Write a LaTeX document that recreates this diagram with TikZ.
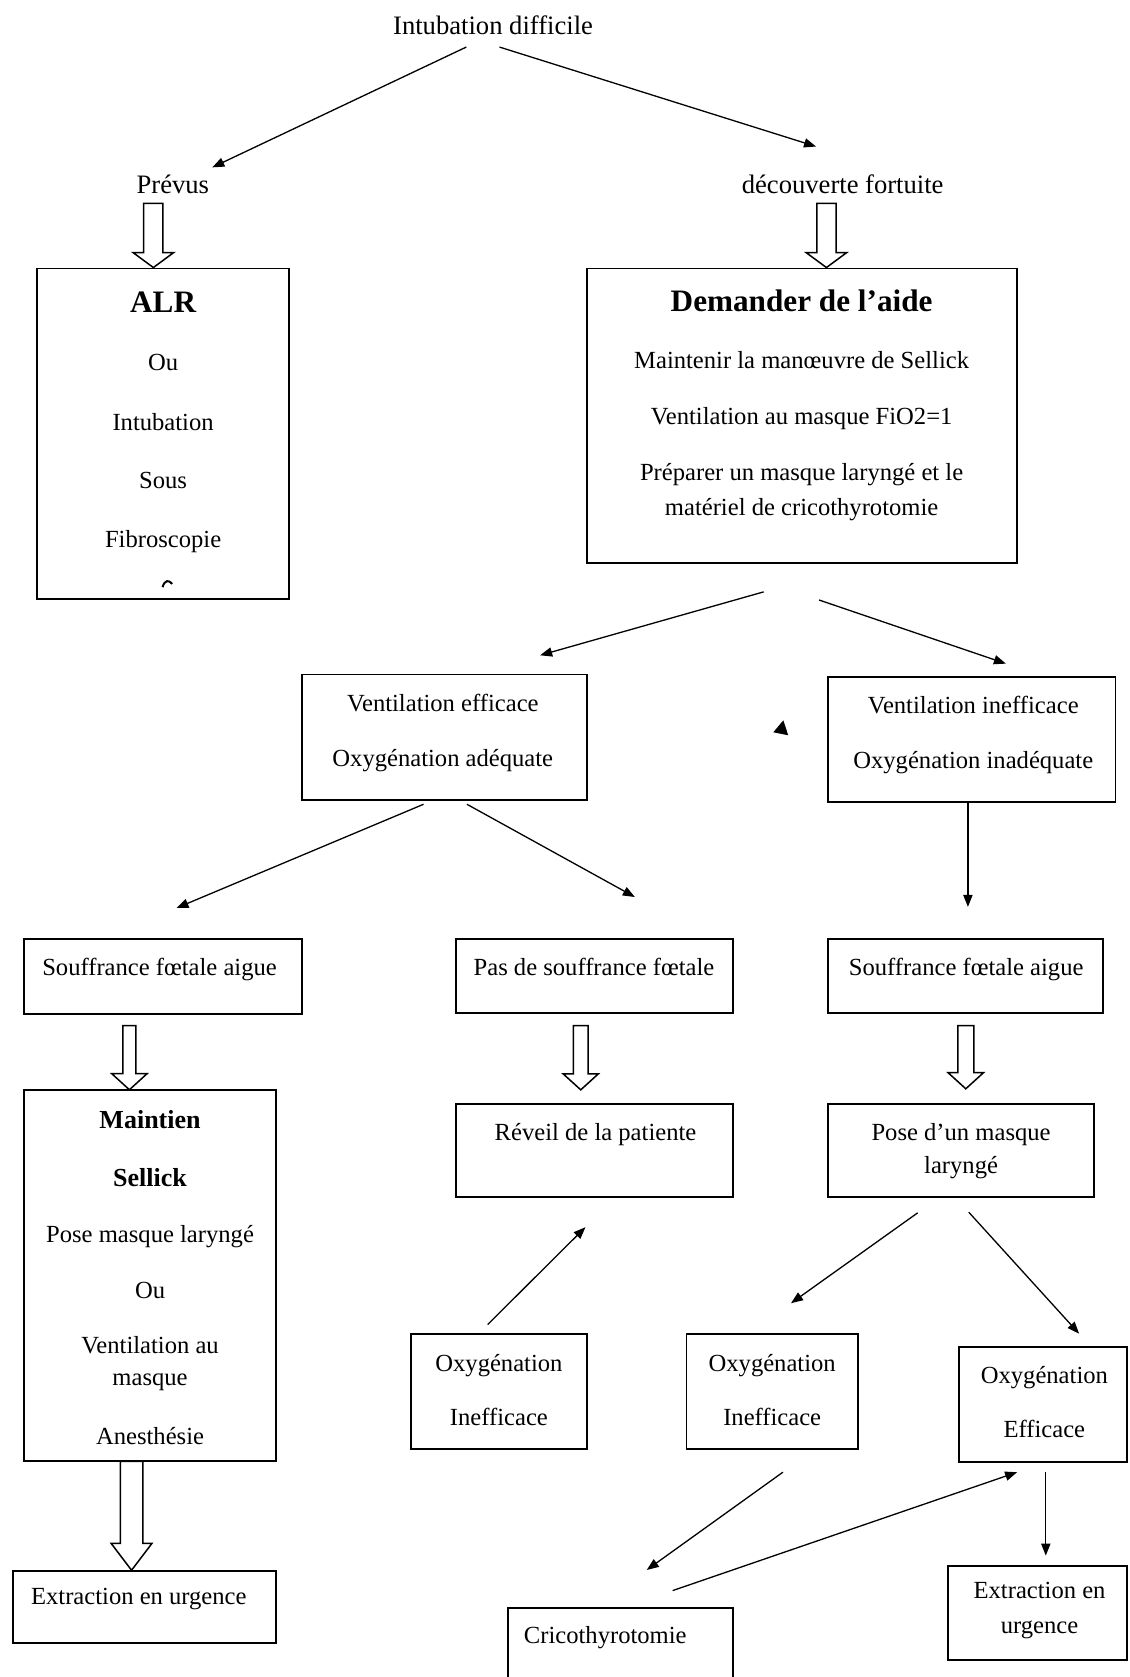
\documentclass[tikz,border=0pt]{standalone}
\usepackage{fontspec}
\setmainfont{Liberation Serif}
\usetikzlibrary{arrows.meta,fit,calc}

% one picture unit in absolute length
\newcommand\unitpt{0.5346pt}
% hollow block arrow: top point, tip point, shaft half-width, head half-width, head length
\newcommand\blockarrow[5]{%
  \draw[hollow] let \p1=(#1), \p2=(#2) in
    (\x1-#3*\unitpt,\y1) -- (\x1+#3*\unitpt,\y1)
    -- (\x1+#3*\unitpt,\y2+#5*\unitpt) -- (\x1+#4*\unitpt,\y2+#5*\unitpt)
    -- (\x1,\y2)
    -- (\x1-#4*\unitpt,\y2+#5*\unitpt) -- (\x1-#3*\unitpt,\y2+#5*\unitpt) -- cycle;}

\begin{document}
\begin{tikzpicture}[x=0.5346pt,y=-0.5346pt,
  box/.style={draw, line width=0.9pt, inner sep=0pt},
  txt/.style={inner sep=0pt, anchor=base, font=\fontsize{12.3}{14}\selectfont},
  lbl/.style={inner sep=0pt, anchor=base, font=\fontsize{13.3}{15}\selectfont},
  hd/.style={inner sep=0pt, anchor=base, font=\fontsize{15.6}{18}\selectfont\bfseries},
  hdm/.style={inner sep=0pt, anchor=base, font=\fontsize{13}{15}\selectfont\bfseries},
  link/.style={line width=0.65pt, -{Triangle[length=6pt,width=4.6pt]}},
  hollow/.style={draw, line width=0.75pt, fill=white}
]
\useasboundingbox (0,0) rectangle (1056,1568);
\clip (0,0) rectangle (1056,1568);
\fill[white] (0,0) rectangle (1056,1568);

% ---------- boxes ----------
\node[box, fit={(34.7,251) (270.2,559.7)}] (alr) {};
\node[box, fit={(548.6,251) (950.8,526.3)}] (aide) {};
\node[box, fit={(282,630.7) (549,748)}] (vef) {};
\node[box, fit={(774.5,633) (1043,750)}] (vinef) {};
\node[box, fit={(22.8,877.7) (282.2,947.8)}] (sfl) {};
\node[box, fit={(426,877.7) (685,947)}] (pas) {};
\node[box, fit={(774.4,877.7) (1031,947)}] (sfr) {};
\node[box, fit={(22.8,1018.9) (258.2,1366.3)}] (maint) {};
\node[box, fit={(426,1032) (685,1119)}] (rev) {};
\node[box, fit={(774.4,1032.6) (1023,1119)}] (pose) {};
\node[box, fit={(384.5,1247.2) (548.9,1354.7)}] (oxl) {};
\node[box, fit={(641.8,1247.2) (802.3,1354.7)}] (oxm) {};
\node[box, fit={(896.5,1259.6) (1054,1367.2)}] (oxe) {};
\node[box, fit={(12.5,1469) (258,1536)}] (extl) {};
\node[box, fit={(886.3,1463.9) (1054,1552)}] (extr) {};
\node[box, fit={(474.8,1503.4) (685,1590)}] (crico) {};

% ---------- texts ----------
\node[lbl] (intub) at (461,32) {Intubation difficile};
\node[lbl] (prevus) at (161.6,180.5) {Prévus};
\node[lbl] (decouv) at (787.9,180.5) {découverte fortuite};

\node[hd]  (alr1) at (152.5,292.5) {ALR};
\node[txt] (alr2) at (152.5,346.7) {Ou};
\node[txt] (alr3) at (152.5,402.2) {Intubation};
\node[txt] (alr4) at (152.5,456.8) {Sous};
\node[txt] (alr5) at (152.5,512.3) {Fibroscopie};

\node[hd]  (aide1) at (749.5,291.5) {Demander de l’aide};
\node[txt] (aide2) at (749.5,344.5) {Maintenir la manœuvre de Sellick};
\node[txt] (aide3) at (749.5,396.6) {Ventilation au masque FiO2=1};
\node[txt] (aide4) at (749.5,449) {Préparer un masque laryngé et le};
\node[txt] (aide5) at (749.5,482.3) {matériel de cricothyrotomie};

\node[txt] (vef1) at (414,665.7) {Ventilation efficace};
\node[txt] (vef2) at (414,717) {Oxygénation adéquate};
\node[txt] (vinef1) at (910,667.2) {Ventilation inefficace};
\node[txt] (vinef2) at (910,718.7) {Oxygénation inadéquate};

\node[txt] (sfl1) at (149.2,912) {Souffrance fœtale aigue};
\node[txt] (pas1) at (555.4,912) {Pas de souffrance fœtale};
\node[txt] (sfr1) at (903.4,912) {Souffrance fœtale aigue};

\node[hdm] (mt1) at (140.3,1054.8) {Maintien};
\node[hdm] (mt2) at (140.3,1109.4) {Sellick};
\node[txt] (mt3) at (140.3,1161.4) {Pose masque laryngé};
\node[txt] (mt4) at (140.3,1214.4) {Ou};
\node[txt] (mt5) at (140.3,1265.9) {Ventilation au};
\node[txt] (mt6) at (140.3,1295.5) {masque};
\node[txt] (mt7) at (140.3,1351) {Anesthésie};

\node[txt] (rev1) at (556.8,1066.3) {Réveil de la patiente};
\node[txt] (pose1) at (898.6,1066.3) {Pose d’un masque};
\node[txt] (pose2) at (898.6,1097.5) {laryngé};

\node[txt] (oxl1) at (466.5,1282) {Oxygénation};
\node[txt] (oxl2) at (466.5,1333) {Inefficace};
\node[txt] (oxm1) at (722,1282) {Oxygénation};
\node[txt] (oxm2) at (722,1333) {Inefficace};
\node[txt] (oxe1) at (976.5,1294) {Oxygénation};
\node[txt] (oxe2) at (976.5,1344.4) {Efficace};

\node[txt, anchor=base west] (extl1) at (28.7,1500.6) {Extraction en urgence};
\node[txt] (extr1) at (972,1495) {Extraction en};
\node[txt] (extr2) at (972,1527.5) {urgence};
\node[txt, anchor=base west] (crico1) at (489.5,1536.5) {Cricothyrotomie};

% small marks
\draw[line width=1pt] (152,549) .. controls (154,542) and (158,542) .. (161,546);
\fill (732.4,673.5) -- (723,684.7) -- (737,687.5) -- cycle;

% ---------- connector end points ----------
\coordinate (a1s) at (436,44);      \coordinate (a1e) at (198.5,156.5);
\coordinate (a2s) at (467,44);      \coordinate (a2e) at (763,137);
\coordinate (a3s) at (714,553.4);   \coordinate (a3e) at (505,612.7);
\coordinate (a4s) at (765.8,561);   \coordinate (a4e) at (940.5,620.5);
\coordinate (a5s) at (396,752);     \coordinate (a5e) at (165,849);
\coordinate (a6s) at (436.6,752);   \coordinate (a6e) at (593.6,838.7);
\coordinate (a7s) at (905,750);     \coordinate (a7e) at (905,848);
\coordinate (a8s) at (456,1238.4);  \coordinate (a8e) at (547.4,1147.4);
\coordinate (a9s) at (858,1134);    \coordinate (a9e) at (739.6,1218.5);
\coordinate (a10s) at (905.8,1133.4); \coordinate (a10e) at (1009,1247);
\coordinate (a11s) at (732,1376.5); \coordinate (a11e) at (604.7,1467.9);
\coordinate (a12s) at (628.9,1487.2); \coordinate (a12e) at (951,1376.5);
\coordinate (a13s) at (977.8,1376.6); \coordinate (a13e) at (977.8,1454.5);

\foreach \k in {1,...,13} \draw[link] (a\k s) -- (a\k e);

% ---------- hollow block arrows ----------
\coordinate (ba1) at (143.4,190.2);
\coordinate (ba2) at (772.7,190.2);
\coordinate (ba3) at (121,959);   \coordinate (ba3t) at (121,1018.9);
\coordinate (ba4) at (543,959);   \coordinate (ba4t) at (543,1019);
\coordinate (ba5) at (903,959);   \coordinate (ba5t) at (903,1018);
\coordinate (ba6) at (123,1366.3);

\blockarrow{ba1}{ba1 |- alr.north}{9}{19}{14}
\blockarrow{ba2}{ba2 |- aide.north}{9}{19}{14}
\blockarrow{ba3}{ba3t}{6}{16.5}{15}
\blockarrow{ba4}{ba4t}{7}{16.5}{15}
\blockarrow{ba5}{ba5t}{7.5}{16.5}{15}
\blockarrow{ba6}{ba6 |- extl.north}{10.5}{19}{25}
\end{tikzpicture}
\end{document}
